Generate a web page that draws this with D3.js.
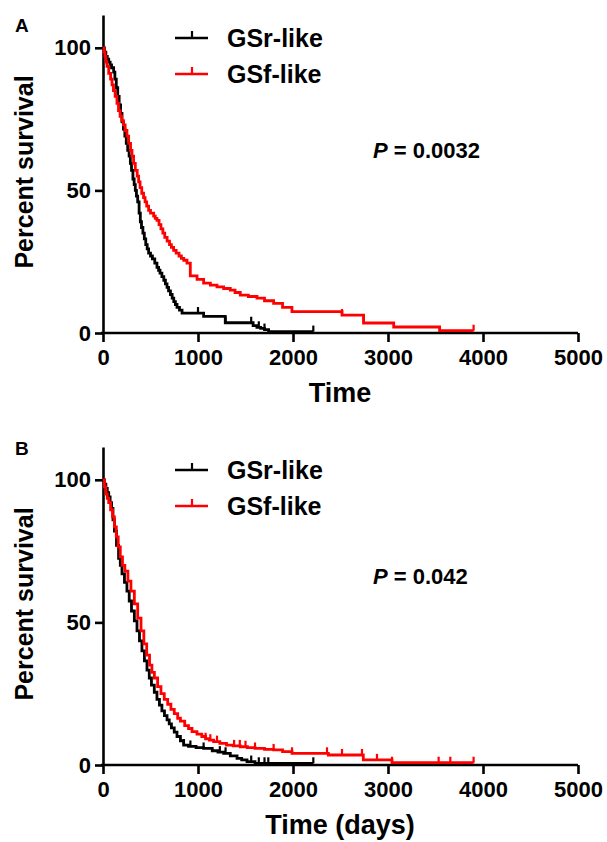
<!DOCTYPE html>
<html>
<head>
<meta charset="utf-8">
<script src="https://cdn.jsdelivr.net/npm/d3@7"></script>
<style>
    body { margin: 0; background: #fff; }
    svg text { font-family: "Liberation Sans", Arial, sans-serif; fill: #000; }
</style>
</head>
<body>
<svg id="chart" width="607" height="842"></svg>
<script>
// --- Data ---
const seriesNames = ["GSr-like", "GSf-like"];
const seriesColors = ["#000000", "#ff0000"];
const xTicks = [0, 1000, 2000, 3000, 4000, 5000];
const yTicks = [0, 50, 100];

// Panel A, GSr-like: time (days) and survival (%) after each drop
const timeA_r = [0, 15, 30, 45, 60, 75, 90, 112, 125, 140, 155, 170, 185, 200, 215, 230, 245, 260, 275, 288, 300, 315, 328, 340, 352, 365, 380, 393, 405, 420, 435, 450, 465, 480, 500, 520, 545, 568, 585, 600, 620, 640, 657, 674, 690, 710, 728, 745, 762, 779, 805, 832, 1059, 1287, 1580, 1620, 1660, 1700, 1743, 2214];
const survA_r = [100, 98.5, 97, 96, 95, 94, 93, 91.5, 89, 86, 83, 80, 77, 74, 71.5, 69, 66.5, 64, 62, 59.5, 57, 54, 52, 50, 48, 46, 42, 39, 37, 35, 33, 31, 29.5, 28, 27, 26, 24.5, 23, 22, 21, 19.8, 18.5, 17.2, 16, 14.8, 13.5, 12.2, 11, 10, 9, 8, 7, 5.8, 3.6, 2.6, 2, 1.6, 1.2, 0.5, 0.5];
const censA_r = [1000, 1290, 1560, 1640, 1700, 2214];

// Panel A, GSf-like
const timeA_f = [0, 10, 20, 30, 42, 60, 80, 95, 110, 128, 147, 163, 180, 197, 215, 233, 252, 270, 290, 305, 322, 340, 360, 375, 390, 408, 427, 443, 460, 480, 500, 533, 550, 568, 590, 610, 630, 650, 675, 700, 720, 743, 770, 800, 825, 850, 884, 919, 990, 1059, 1130, 1200, 1270, 1340, 1390, 1445, 1530, 1621, 1700, 1796, 1890, 1989, 2516, 2743, 3060, 3543, 3901];
const survA_f = [100, 98.5, 97, 95, 93.5, 91, 89, 87, 85, 83, 80.5, 78, 76, 74.5, 73, 71, 69, 66.5, 64, 62, 59.5, 57, 55, 53, 51, 49, 47.5, 46, 44.5, 43, 42, 41, 40.2, 39.5, 38, 36.5, 35, 33.5, 32.2, 31, 30, 29, 28, 27, 26.2, 25.5, 24.5, 20, 18.8, 17.5, 16.8, 16.2, 15.6, 15, 14.2, 13.3, 12.8, 12.2, 11.3, 10.4, 9, 7.5, 6.3, 3.5, 2.1, 0.8, 0.8];
const censA_f = [2516, 2743, 3901];

// Panel B, GSr-like
const timeB_r = [0, 15, 30, 45, 60, 75, 90, 105, 120, 142, 164, 182, 200, 226, 252, 276, 300, 330, 358, 384, 410, 436, 463, 487, 510, 540, 568, 594, 620, 647, 674, 697, 720, 750, 779, 815, 849, 900, 980, 1059, 1150, 1210, 1270, 1340, 1411, 1460, 1516, 1600, 2214];
const survB_r = [100, 98.5, 97, 95.5, 94, 92, 90, 86, 82, 77, 72.5, 70, 67, 64, 61, 57.5, 54, 50.5, 47, 43.5, 40, 36.5, 33.3, 30.5, 28, 25.5, 23, 21, 19, 17.3, 15.8, 14.4, 13, 11.5, 10, 8.5, 7, 6.5, 6.1, 5.8, 5, 4.5, 4.1, 3.2, 2.3, 1.8, 1.2, 0.6, 0.6];
const censB_r = [850, 920, 1059, 1230, 1290, 1560, 1640, 1700, 1740, 2214];

// Panel B, GSf-like
const timeB_f = [0, 15, 30, 45, 60, 80, 100, 120, 140, 160, 182, 205, 230, 262, 294, 330, 365, 400, 430, 460, 490, 515, 541, 575, 610, 645, 681, 715, 750, 786, 815, 860, 900, 937, 989, 1040, 1080, 1120, 1164, 1230, 1300, 1370, 1445, 1520, 1600, 1700, 1796, 1890, 1989, 2372, 2740, 3042, 3901];
const survB_f = [100, 97.5, 95, 93.5, 92, 89.5, 87, 83.5, 80, 76.5, 73, 70, 68, 64.5, 61, 56.5, 51.5, 47, 42.5, 38.5, 35, 32.5, 30.5, 27.5, 25, 23, 21.3, 19.5, 18, 16.4, 15.4, 13.8, 12.8, 11.7, 10.8, 10, 9.2, 8.7, 8.2, 7.6, 7, 6.7, 6.4, 6.1, 5.8, 5.5, 5.3, 4.7, 4.1, 3.5, 1.8, 0.8, 0.8];
const censB_f = [1080, 1130, 1200, 1380, 1440, 1500, 1600, 1796, 1990, 2358, 2516, 2726, 2884, 3042, 3533, 3656, 3901];

const panels = [
    { label: "A", top: 0, labelY: 32, pText: "0.0032", pY: 158, xTitle: "Time",
      series: [[timeA_r, survA_r, censA_r], [timeA_f, survA_f, censA_f]] },
    { label: "B", top: 432, labelY: 23, pText: "0.042", pY: 152, xTitle: "Time (days)",
      series: [[timeB_r, survB_r, censB_r], [timeB_f, survB_f, censB_f]] }
];

const svg = d3.select("#chart");

// value of a step curve at time t
function survAt(times, surv, t) {
    let v = surv[0];
    for (let i = 0; i < times.length; i++) {
        if (times[i] <= t) v = surv[i];
    }
    return v;
}

function drawPanel(p) {
    const g = svg.append("g").attr("transform", `translate(0, ${p.top})`);

    const x = d3.scaleLinear().domain([0, 5000]).range([103, 578]);
    const y = d3.scaleLinear().domain([0, 111.5]).range([333, 15]);

    // axes
    const xAxis = d3.axisBottom(x).tickValues(xTicks).tickFormat(d3.format("d"))
        .tickSize(9).tickSizeOuter(0).tickPadding(6);
    const yAxis = d3.axisLeft(y).tickValues(yTicks).tickFormat(d3.format("d"))
        .tickSize(8).tickSizeOuter(0).tickPadding(4);

    const gx = g.append("g").attr("transform", "translate(0, 333)").call(xAxis);
    const gy = g.append("g").attr("transform", "translate(103, 0)").call(yAxis);

    [gx, gy].forEach(a => {
        a.select(".domain").attr("stroke", "#000").attr("stroke-width", 2.6);
        a.selectAll(".tick line").attr("stroke", "#000").attr("stroke-width", 2.6);
        a.selectAll(".tick text")
            .style("font-family", '"Liberation Sans", Arial, sans-serif')
            .style("font-size", "22px").style("font-weight", "bold").attr("fill", "#000");
    });
    gx.select(".domain").attr("d", "M101,0H578");
    gx.selectAll(".tick text").attr("dy", "0.78em");

    // curves
    const line = d3.line().x(d => x(d[0])).y(d => y(d[1])).curve(d3.curveStepAfter);
    p.series.forEach((s, i) => {
        const [times, surv, cens] = s;
        const pts = times.map((t, k) => [t, surv[k]]);
        g.append("path").datum(pts)
            .attr("fill", "none")
            .attr("stroke", seriesColors[i])
            .attr("stroke-width", 2.8)
            .attr("d", line);
        g.selectAll(null).data(cens).enter().append("line")
            .attr("x1", d => x(d)).attr("x2", d => x(d))
            .attr("y1", d => y(survAt(times, surv, d)))
            .attr("y2", d => y(survAt(times, surv, d)) - 6)
            .attr("stroke", seriesColors[i])
            .attr("stroke-width", 2.2);
    });

    // legend
    seriesNames.forEach((name, i) => {
        const ly = 38 + i * 36;
        g.append("line").attr("x1", 175).attr("x2", 208).attr("y1", ly).attr("y2", ly)
            .attr("stroke", seriesColors[i]).attr("stroke-width", 2.6);
        g.append("line").attr("x1", 192).attr("x2", 192).attr("y1", ly).attr("y2", ly - 7)
            .attr("stroke", seriesColors[i]).attr("stroke-width", 2.2);
        g.append("text").attr("x", 227).attr("y", ly + 9)
            .style("font-size", "25px").style("font-weight", "bold")
            .text(name);
    });

    // panel label
    g.append("text").attr("x", 15).attr("y", p.labelY)
        .style("font-size", "19px").style("font-weight", "bold").text(p.label);

    // p value
    const pt = g.append("text").attr("x", 373).attr("y", p.pY)
        .style("font-size", "22px").style("font-weight", "bold");
    pt.append("tspan").style("font-style", "italic").text("P");
    pt.append("tspan").text(" = " + p.pText);

    // axis titles
    g.append("text").attr("x", 340).attr("y", 402).attr("text-anchor", "middle")
        .style("font-size", "27px").style("font-weight", "bold").text(p.xTitle);
    g.append("text").attr("transform", "translate(33, 172) rotate(-90)").attr("text-anchor", "middle")
        .style("font-size", "25px").style("font-weight", "bold").text("Percent survival");
}

panels.forEach(drawPanel);
</script>
</body>
</html>
